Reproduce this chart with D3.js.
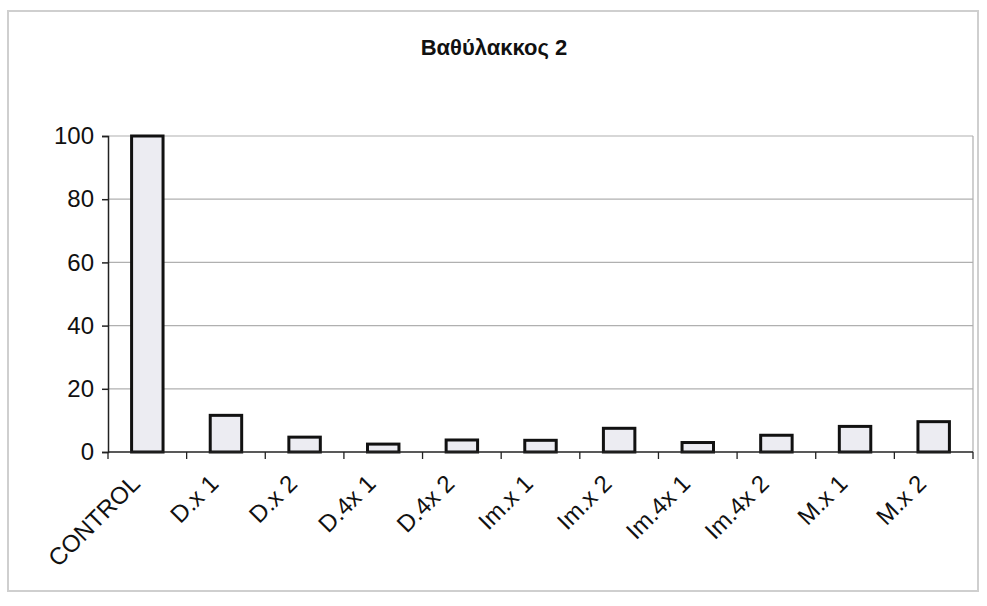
<!DOCTYPE html>
<html>
<head>
<meta charset="utf-8">
<script src="https://cdn.jsdelivr.net/npm/d3@7/dist/d3.min.js"></script>
<style>
  html, body { margin: 0; padding: 0; background: #fff; }
  svg { display: block; }
  text { font-family: "Liberation Sans", Arial, sans-serif; fill: #111; }
</style>
</head>
<body>
<svg id="chart" width="987" height="606"></svg>
<script>
// Bar values per sample (CONTROL = 100)
const categories = ["CONTROL", "D.x 1", "D.x 2", "D.4x 1", "D.4x 2", "Im.x 1", "Im.x 2", "Im.4x 1", "Im.4x 2", "M.x 1", "M.x 2"];
const values = [100, 11.6, 4.7, 2.5, 3.8, 3.7, 7.5, 3.0, 5.3, 8.1, 9.6];
const yTicks = [0, 20, 40, 60, 80, 100];
const title = "Βαθύλακκος 2";

const plot = { left: 108, right: 973, top: 136, bottom: 452 };

const svg = d3.select("#chart");

// outer chart frame
svg.append("rect")
  .attr("x", 8).attr("y", 11)
  .attr("width", 970).attr("height", 580)
  .attr("fill", "#fff")
  .attr("stroke", "#cfcfcf")
  .attr("stroke-width", 2);

const x = d3.scaleBand()
  .domain(categories)
  .range([plot.left, plot.right])
  .paddingInner(0.6)
  .paddingOuter(0.3);

const y = d3.scaleLinear()
  .domain([0, 100])
  .range([plot.bottom, plot.top]);

// horizontal gridlines
svg.append("g")
  .selectAll("line")
  .data(yTicks.filter(d => d > 0))
  .join("line")
  .attr("x1", plot.left).attr("x2", plot.right)
  .attr("y1", d => y(d)).attr("y2", d => y(d))
  .attr("stroke", "#b0b0b0")
  .attr("stroke-width", 1.2);

// right border of the plot area
svg.append("line")
  .attr("x1", plot.right).attr("x2", plot.right)
  .attr("y1", plot.top).attr("y2", plot.bottom)
  .attr("stroke", "#b0b0b0")
  .attr("stroke-width", 1.2);

// bars
svg.append("g")
  .selectAll("rect")
  .data(categories.map((c, i) => ({ c, v: values[i] })))
  .join("rect")
  .attr("x", d => x(d.c))
  .attr("width", x.bandwidth())
  .attr("y", d => y(d.v))
  .attr("height", d => y(0) - y(d.v))
  .attr("fill", "#ececf2")
  .attr("stroke", "#111")
  .attr("stroke-width", 3);

// y axis
const yAxis = d3.axisLeft(y)
  .tickValues(yTicks)
  .tickSize(6)
  .tickPadding(8)
  .tickFormat(d3.format("d"));

const gy = svg.append("g")
  .attr("transform", `translate(${plot.left},0)`)
  .call(yAxis);
gy.select(".domain").attr("stroke", "#222").attr("stroke-width", 1.5);
gy.selectAll(".tick line").attr("stroke", "#222").attr("stroke-width", 1.5);
gy.selectAll(".tick text")
  .attr("font-size", 24)
  .attr("font-family", "Liberation Sans, Arial, sans-serif")
  .attr("fill", "#111");

// x axis line with category boundary ticks
const step = x.step();
const boundaries = d3.range(categories.length + 1).map(i => plot.left + i * step);
svg.append("line")
  .attr("x1", plot.left).attr("x2", plot.right)
  .attr("y1", plot.bottom).attr("y2", plot.bottom)
  .attr("stroke", "#222").attr("stroke-width", 1.5);
svg.append("g")
  .selectAll("line")
  .data(boundaries)
  .join("line")
  .attr("x1", d => d).attr("x2", d => d)
  .attr("y1", plot.bottom).attr("y2", plot.bottom + 7)
  .attr("stroke", "#222").attr("stroke-width", 1.3);

// rotated category labels
svg.append("g")
  .selectAll("text")
  .data(categories)
  .join("text")
  .attr("transform", d => `translate(${x(d) + x.bandwidth() / 2 - 6},${485}) rotate(-45)`)
  .attr("text-anchor", "end")
  .attr("font-size", 24)
  .text(d => d);

// title
svg.append("text")
  .attr("x", 494).attr("y", 55)
  .attr("text-anchor", "middle")
  .attr("font-size", 22)
  .attr("font-weight", "bold")
  .text(title);
</script>
</body>
</html>
